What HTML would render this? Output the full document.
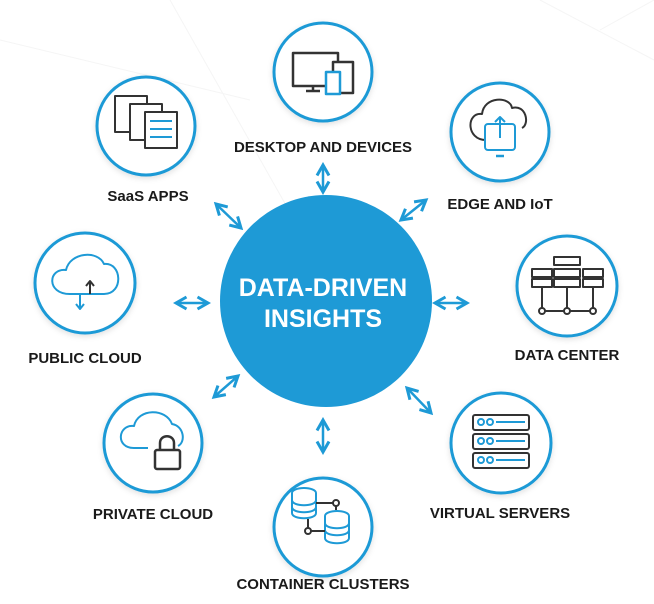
<!DOCTYPE html>
<html><head><meta charset="utf-8"><style>
html,body{margin:0;padding:0;background:#fff;}
svg{display:block;}
text{font-family:"Liberation Sans",sans-serif;font-weight:bold;}
</style></head><body>
<svg width="654" height="604" viewBox="0 0 654 604" xmlns="http://www.w3.org/2000/svg">
<defs>
<marker id="ah" viewBox="0 0 10 10" refX="8" refY="5" markerWidth="6" markerHeight="6" orient="auto-start-reverse">
<path d="M1,1 L8,5 L1,9" fill="none" stroke="#1e9ad6" stroke-width="2"/>
</marker>
<filter id="sh" x="-20%" y="-20%" width="140%" height="140%"><feDropShadow dx="0" dy="2" stdDeviation="3" flood-color="#000" flood-opacity="0.12"/></filter>
</defs>
<rect width="654" height="604" fill="#fff"/>
<g stroke="#f5f5f5" stroke-width="1" fill="none">
<path d="M0,40 L250,100 M540,0 L654,60 M600,30 L654,0 M170,0 L300,230"/>
</g>

<circle cx="326" cy="301" r="106" fill="#1e9ad6"/>
<text x="323" y="296" fill="#fff" font-size="25" text-anchor="middle">DATA-DRIVEN</text>
<text x="323" y="327" fill="#fff" font-size="25" text-anchor="middle">INSIGHTS</text>

<g fill="#fff" stroke="#1e9ad6" stroke-width="3" filter="url(#sh)">
<circle cx="323" cy="72" r="49"/>
<circle cx="146" cy="126" r="49"/>
<circle cx="500" cy="132" r="49"/>
<circle cx="85" cy="283" r="50"/>
<circle cx="567" cy="286" r="50"/>
<circle cx="153" cy="443" r="49"/>
<circle cx="501" cy="443" r="50"/>
<circle cx="323" cy="527" r="49"/>
</g>

<g stroke="#1e9ad6" stroke-width="2.5" marker-start="url(#ah)" marker-end="url(#ah)">
<line x1="323" y1="165" x2="323" y2="192"/>
<line x1="401" y1="220" x2="426" y2="200"/>
<line x1="216" y1="204" x2="241" y2="228"/>
<line x1="176" y1="303" x2="208" y2="303"/>
<line x1="435" y1="303" x2="467" y2="303"/>
<line x1="214" y1="397" x2="238" y2="376"/>
<line x1="407" y1="388" x2="431" y2="413"/>
<line x1="323" y1="420" x2="323" y2="452"/>
</g>

<g fill="none" stroke-width="2.5" stroke-linejoin="round">
<rect x="293" y="53" width="45" height="33" stroke="#333"/>
<path d="M306,91 L320,91 M313,86 L313,91" stroke="#333"/>
<rect x="333" y="62" width="20" height="31" stroke="#333" fill="#fff"/>
<rect x="326" y="72" width="14" height="22" stroke="#1e9ad6" fill="#fff"/>
<rect x="115" y="96" width="32" height="36" stroke="#333" stroke-width="2"/>
<rect x="130" y="104" width="32" height="36" stroke="#333" stroke-width="2" fill="#fff"/>
<rect x="145" y="112" width="32" height="36" stroke="#333" stroke-width="2" fill="#fff"/>
<path d="M150,121 L172,121 M150,129 L172,129 M150,137 L172,137" stroke="#1e9ad6" stroke-width="2"/>
<path d="M486,140 C466,140 466,112 482,114 C484,96 510,96 512,108 C526,104 530,124 522,128" stroke="#333" stroke-width="2"/>
<rect x="485" y="124" width="30" height="26" rx="3" stroke="#1e9ad6" stroke-width="2"/>
<path d="M496,156 L504,156" stroke="#1e9ad6"/>
<path d="M500,138 L500,117 M495,122 L500,117 L505,122" stroke="#1e9ad6" stroke-width="2"/>
<path d="M70,294 C46,294 48,268 66,270 C70,252 98,250 104,264 C122,262 124,294 104,294 Z" stroke="#1e9ad6" stroke-width="2"/>
<path d="M90,294 L90,282 M86,286 L90,281 L94,286" stroke="#333" stroke-width="2"/>
<path d="M80,294 L80,308 M76,304 L80,309 L84,304" stroke="#1e9ad6" stroke-width="2"/>
<g stroke="#333" stroke-width="2">
<rect x="554" y="257" width="26" height="8"/>
<rect x="532" y="269" width="20" height="8"/><rect x="554" y="269" width="26" height="8"/><rect x="583" y="269" width="20" height="8"/>
<rect x="532" y="279" width="20" height="8"/><rect x="554" y="279" width="26" height="8"/><rect x="583" y="279" width="20" height="8"/>
<path d="M542,287 L542,311 M567,287 L567,311 M593,287 L593,311 M542,311 L593,311"/>
<circle cx="542" cy="311" r="3" fill="#fff"/><circle cx="567" cy="311" r="3" fill="#fff"/><circle cx="593" cy="311" r="3" fill="#fff"/>
</g>
<path d="M148,448 L134,448 C115,448 118,424 134,426 C138,408 166,408 172,424 C184,426 186,442 178,446" stroke="#1e9ad6" stroke-width="2"/>
<path d="M160,450 L160,443 C160,434 174,434 174,443 L174,450" stroke="#333"/>
<rect x="155" y="450" width="25" height="19" rx="2" stroke="#333" fill="#fff"/>
<g stroke="#333" stroke-width="2">
<rect x="473" y="415" width="56" height="15" rx="2"/>
<rect x="473" y="434" width="56" height="15" rx="2"/>
<rect x="473" y="453" width="56" height="15" rx="2"/>
</g>
<g stroke="#1e9ad6" stroke-width="2">
<circle cx="481" cy="422" r="3"/><circle cx="490" cy="422" r="3"/><path d="M496,422 L525,422"/>
<circle cx="481" cy="441" r="3"/><circle cx="490" cy="441" r="3"/><path d="M496,441 L525,441"/>
<circle cx="481" cy="460" r="3"/><circle cx="490" cy="460" r="3"/><path d="M496,460 L525,460"/>
</g>
<g stroke="#1e9ad6" stroke-width="2" fill="#fff">
<ellipse cx="304" cy="493" rx="12" ry="5"/>
<path d="M292,493 L292,513 C292,520 316,520 316,513 L316,493 M292,500 C292,507 316,507 316,500 M292,507 C292,514 316,514 316,507"/>
<ellipse cx="337" cy="516" rx="12" ry="5"/>
<path d="M325,516 L325,538 C325,545 349,545 349,538 L349,516 M325,523 C325,530 349,530 349,523 M325,530 C325,537 349,537 349,530"/>
</g>
<path d="M316,503 L336,503 L336,510 M308,519 L308,531 L325,531" stroke="#333" stroke-width="2"/>
<circle cx="336" cy="503" r="3" stroke="#333" stroke-width="2" fill="#fff"/>
<circle cx="308" cy="531" r="3" stroke="#333" stroke-width="2" fill="#fff"/>
</g>

<g fill="#1a1a1a" font-size="15" text-anchor="middle">
<text x="323" y="152">DESKTOP AND DEVICES</text>
<text x="148" y="201">SaaS APPS</text>
<text x="500" y="209">EDGE AND IoT</text>
<text x="85" y="363">PUBLIC CLOUD</text>
<text x="567" y="360">DATA CENTER</text>
<text x="153" y="519">PRIVATE CLOUD</text>
<text x="500" y="518">VIRTUAL SERVERS</text>
<text x="323" y="589">CONTAINER CLUSTERS</text>
</g>
</svg>
</body></html>
